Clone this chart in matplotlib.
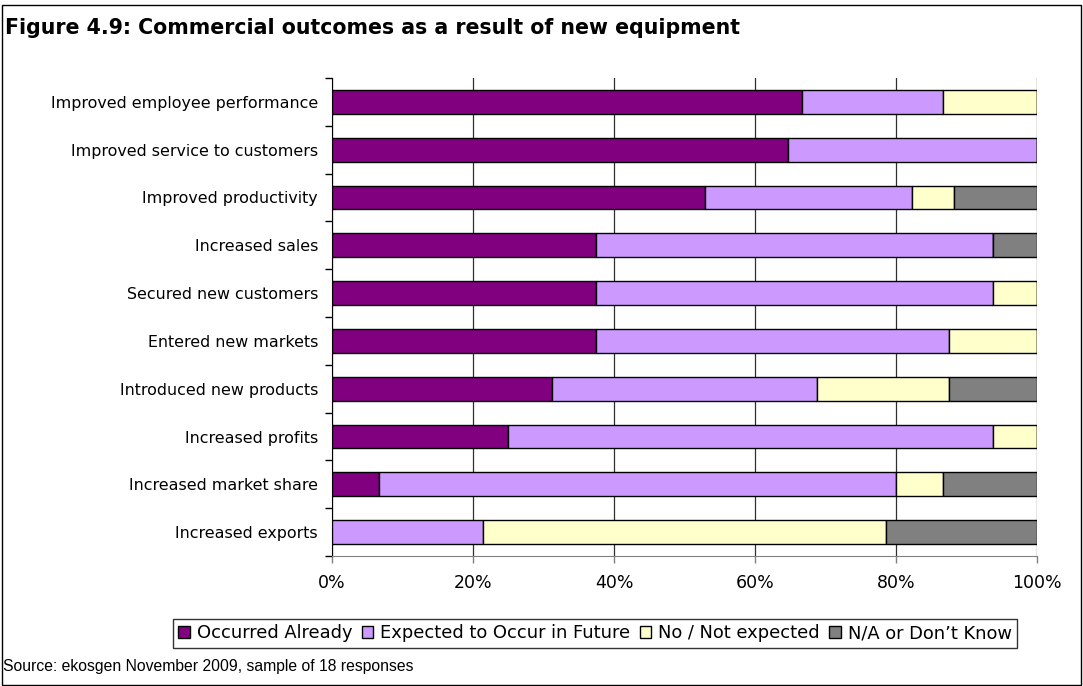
import numpy as np
import matplotlib
matplotlib.use("Agg")
import matplotlib.pyplot as plt
from matplotlib.patches import Rectangle
from matplotlib.ticker import FixedLocator, PercentFormatter

# outcome categories, top to bottom
categories = [
    "Improved employee performance",
    "Improved service to customers",
    "Improved productivity",
    "Increased sales",
    "Secured new customers",
    "Entered new markets",
    "Introduced new products",
    "Increased profits",
    "Increased market share",
    "Increased exports",
]

# share of responses (%)
occurred = [66.7, 64.7, 52.9, 37.5, 37.5, 37.5, 31.25, 25.0, 6.7, 0.0]
future = [20.0, 35.3, 29.4, 56.25, 56.25, 50.0, 37.5, 68.75, 73.3, 21.4]
not_expected = [13.3, 0.0, 5.9, 0.0, 6.25, 12.5, 18.75, 6.25, 6.7, 57.2]
dont_know = [0.0, 0.0, 11.8, 6.25, 0.0, 0.0, 12.5, 0.0, 13.3, 21.4]

series_names = ["Occurred Already", "Expected to Occur in Future",
                "No / Not expected", "N/A or Don\u2019t Know"]
series_colors = ["#800080", "#CC99FF", "#FFFFCC", "#808080"]

W, H = 1083, 686
fig = plt.figure(figsize=(W / 100, H / 100), dpi=100)
plt.rcParams['font.family'] = ['DejaVu Sans']

ax = fig.add_axes([332 / W, 1 - 556 / H, 705 / W, 478 / H])

y = np.arange(len(categories))
left = np.zeros(len(categories))
handles = []
for vals, name, col in zip([occurred, future, not_expected, dont_know],
                           series_names, series_colors):
    vals = np.array(vals)
    b = ax.barh(y, vals, left=left, height=0.5, color=col,
                edgecolor="black", linewidth=1.0, label=name, zorder=3)
    handles.append(b)
    left += vals

ax.set_xlim(0, 100)
ax.set_ylim(len(categories) - 0.5, -0.5)

# x axis
ax.set_xticks(np.arange(0, 101, 20))
ax.xaxis.set_major_formatter(PercentFormatter(decimals=0))
ax.tick_params(axis="x", direction="out", length=5, width=1, color="#808080",
               labelsize=12.5, pad=8)
ax.grid(axis="x", color="#303030", linewidth=0.9, zorder=0)

# y axis: labels at bar centres, ticks between categories
ax.set_yticks(y)
ax.set_yticklabels(categories)
ax.yaxis.set_minor_locator(FixedLocator(np.arange(-0.5, len(categories), 1)))
ax.tick_params(axis="y", which="major", length=0, labelsize=11.4, pad=10)
ax.tick_params(axis="y", which="minor", direction="out", length=5, width=1,
               color="black")

for s in ["top", "right"]:
    ax.spines[s].set_visible(False)
ax.spines["left"].set_color("black")
ax.spines["bottom"].set_color("#808080")

# legend
leg = fig.legend(handles=handles, labels=series_names, loc="center",
                 bbox_to_anchor=(595 / W, 1 - 633.5 / H), ncol=4,
                 frameon=True, fancybox=False, edgecolor="black",
                 fontsize=12.9, handlelength=0.65, handleheight=0.65,
                 handletextpad=0.4, columnspacing=0.5,
                 borderpad=0.3, borderaxespad=0)
leg.get_frame().set_linewidth(1.0)

# title and source
fig.text(5 / W, 1 - 28 / H, "Figure 4.9: Commercial outcomes as a result of new equipment",
         fontsize=14.8, fontweight="bold", va="center", ha="left")
fig.text(3 / W, 1 - 667 / H, "Source: ekosgen November 2009, sample of 18 responses",
         fontsize=11.3, family=["Liberation Sans"], va="center", ha="left")

# outer frame
fig.patches.append(Rectangle((1.5 / W, 1.5 / H), (W - 4) / W, (H - 6) / H,
                             transform=fig.transFigure, fill=False,
                             edgecolor="black", linewidth=1.0))

fig.savefig("out.png", dpi=100)
